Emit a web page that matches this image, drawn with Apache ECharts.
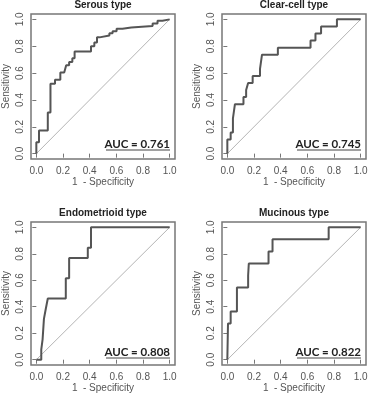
<!DOCTYPE html>
<html>
<head>
<meta charset="utf-8">
<script src="https://cdn.jsdelivr.net/npm/echarts@6/dist/echarts.min.js"></script>
<style>
  html, body { margin: 0; padding: 0; background: #fff; }
  #chart { width: 372px; height: 394px; }
</style>
</head>
<body>
<div id="chart"></div>
<script>
// tick marks shared by all four panels
const tickValues = [0, 0.2, 0.4, 0.6, 0.8, 1.0];

const panelTitles = ['Serous type', 'Clear-cell type', 'Endometrioid type', 'Mucinous type'];
const aucValues = ['0.761', '0.745', '0.808', '0.822'];

// ROC step curves, [1 - specificity, sensitivity]
const serousRoc = [
  [0, 0], [0, 0.084], [0.02, 0.084], [0.02, 0.173], [0.086, 0.173], [0.086, 0.307],
  [0.106, 0.307], [0.106, 0.52], [0.14, 0.52], [0.14, 0.55], [0.18, 0.55], [0.18, 0.604],
  [0.209, 0.604], [0.209, 0.614], [0.224, 0.614], [0.224, 0.658], [0.246, 0.658], [0.246, 0.683],
  [0.27, 0.683], [0.27, 0.71], [0.287, 0.71], [0.287, 0.76], [0.41, 0.76], [0.41, 0.80],
  [0.435, 0.80], [0.435, 0.827], [0.455, 0.827], [0.455, 0.866], [0.474, 0.866], [0.474, 0.88],
  [0.548, 0.88], [0.548, 0.896], [0.572, 0.896], [0.572, 0.911], [0.602, 0.911], [0.602, 0.93],
  [0.646, 0.93], [0.646, 0.94], [0.712, 0.94], [0.712, 0.95], [0.872, 0.95], [0.872, 0.97],
  [0.909, 0.97], [0.909, 0.99], [0.946, 0.99], [0.946, 1.0], [1, 1.0]
];
const clearCellRoc = [
  [0, 0], [0, 0.105], [0.025, 0.105], [0.025, 0.158], [0.042, 0.158], [0.042, 0.263],
  [0.057, 0.263], [0.057, 0.368], [0.121, 0.368], [0.121, 0.421], [0.141, 0.421], [0.141, 0.474],
  [0.156, 0.474], [0.156, 0.526], [0.19, 0.526], [0.19, 0.579], [0.245, 0.579], [0.245, 0.632],
  [0.26, 0.632], [0.26, 0.737], [0.379, 0.737], [0.379, 0.789], [0.624, 0.789], [0.624, 0.842],
  [0.661, 0.842], [0.661, 0.895], [0.703, 0.895], [0.703, 0.947], [0.822, 0.947], [0.822, 1.0],
  [1, 1.0]
];
const endometrioidRoc = [
  [0, 0], [0.037, 0], [0.037, 0.077], [0.047, 0.077], [0.047, 0.154], [0.057, 0.154],
  [0.057, 0.308], [0.071, 0.308], [0.071, 0.385], [0.086, 0.385], [0.086, 0.462], [0.221, 0.462],
  [0.221, 0.615], [0.246, 0.615], [0.246, 0.769], [0.386, 0.769], [0.386, 0.846], [0.41, 0.846],
  [0.41, 1.0], [1, 1.0]
];
const mucinousRoc = [
  [0, 0], [0.005, 0], [0.005, 0.273], [0.025, 0.273], [0.025, 0.364], [0.072, 0.364],
  [0.072, 0.545], [0.156, 0.545], [0.156, 0.636], [0.161, 0.636], [0.161, 0.727], [0.309, 0.727],
  [0.309, 0.818], [0.339, 0.818], [0.339, 0.909], [0.76, 0.909], [0.76, 1.0], [1, 1.0]
];
const rocCurves = [serousRoc, clearCellRoc, endometrioidRoc, mucinousRoc];
const diagonal = [[0, 0], [1, 1]];

// plot boxes (R style, 4% padding around the data range)
const boxes = [
  { left: 31, top: 14 }, { left: 222, top: 14 },
  { left: 31, top: 222 }, { left: 222, top: 222 }
];
const boxW = 144, boxH = 145;

const textColor = '#555';
const font = 'Liberation Sans, Arial, sans-serif';

const chart = echarts.init(document.getElementById('chart'));

const axisCommon = {
  type: 'value',
  min: -0.04,
  max: 1.04,
  axisLine: { show: false },
  splitLine: { show: false },
  axisTick: { show: true, customValues: tickValues, length: 4, lineStyle: { color: '#777', width: 1 } },
  nameLocation: 'middle',
  nameTextStyle: { color: textColor, fontSize: 10, fontFamily: font }
};

const option = {
  animation: false,
  backgroundColor: '#fff',
  title: boxes.map((b, i) => ({
    text: panelTitles[i],
    left: b.left + boxW / 2,
    top: b.top - 14,
    textAlign: 'center',
    padding: 0,
    textStyle: { fontSize: 10, fontWeight: 'bold', color: '#222', fontFamily: font }
  })),
  grid: boxes.map(b => ({
    left: b.left, top: b.top, width: boxW, height: boxH,
    show: true, borderColor: '#777', borderWidth: 1.5, backgroundColor: 'transparent'
  })),
  xAxis: boxes.map((b, i) => Object.assign({}, axisCommon, {
    gridIndex: i,
    name: '1  - Specificity',
    nameGap: 18,
    axisLabel: {
      customValues: tickValues, margin: 7, color: textColor, fontSize: 10, fontFamily: font,
      formatter: v => v.toFixed(1)
    }
  })),
  yAxis: boxes.map((b, i) => Object.assign({}, axisCommon, {
    gridIndex: i,
    name: 'Sensitivity',
    nameGap: 20,
    axisLabel: {
      customValues: tickValues, margin: 6, rotate: 90, color: textColor, fontSize: 10, fontFamily: font,
      formatter: v => v.toFixed(1)
    }
  })),
  series: [].concat(
    rocCurves.map((d, i) => ({
      type: 'line', xAxisIndex: i, yAxisIndex: i, data: diagonal,
      showSymbol: false, silent: true, lineStyle: { color: '#b5b5b5', width: 1 }
    })),
    rocCurves.map((d, i) => ({
      type: 'line', xAxisIndex: i, yAxisIndex: i, data: d,
      showSymbol: false, silent: true, lineStyle: { color: '#555', width: 2 }
    }))
  ),
  graphic: [].concat(
    boxes.map((b, i) => ({
      type: 'text',
      x: b.left + boxW - 5,
      y: b.top + boxH - 15,
      style: {
        text: 'AUC = ' + aucValues[i],
        align: 'right', verticalAlign: 'middle',
        font: 'bold 11.5px Lato, sans-serif',
        fill: '#222'
      }
    })),
    boxes.map((b, i) => ({
      type: 'line',
      shape: { x1: b.left + boxW - 69, y1: b.top + boxH - 9, x2: b.left + boxW - 5, y2: b.top + boxH - 9 },
      style: { stroke: '#444', lineWidth: 1 }
    }))
  )
};

chart.setOption(option);
</script>
</body>
</html>
